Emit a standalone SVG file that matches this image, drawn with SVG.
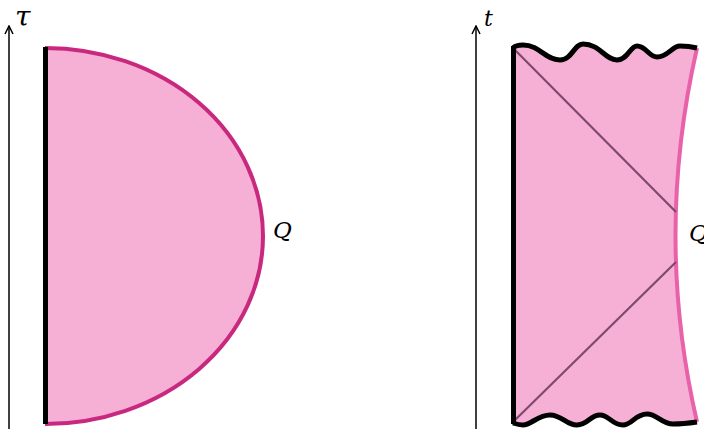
<svg xmlns="http://www.w3.org/2000/svg" width="704" height="429" viewBox="0 0 704 429">
<style>
.axis{stroke:#000;stroke-width:1.5;fill:none}
.lbl{font-family:"DejaVu Serif","Liberation Serif",serif;font-style:italic;fill:#000}
.fill{fill:#f7b0d5}
.bnd{stroke:#000;stroke-width:5;fill:none;stroke-linejoin:round}
.diag{stroke:#7e4a6c;stroke-width:2.2;fill:none}
</style>
<defs>
<marker id="arr" viewBox="0 0 10 10" refX="9" refY="5" markerWidth="10" markerHeight="10" markerUnits="userSpaceOnUse" orient="auto">
<path d="M1,1 L9,5 L1,9" fill="none" stroke="#000" stroke-width="1.5"/>
</marker>
</defs>
<g id="axes" class="connectors">
<line class="axis" x1="9" y1="429" x2="9" y2="26" marker-end="url(#arr)"/>
<line class="axis" x1="476" y1="429" x2="476" y2="26" marker-end="url(#arr)"/>
</g>
<g id="left-disk">
<path class="fill" d="M45,48 A218,188 0 0 1 45,424 Z"/>
<path d="M45,48 A218,188 0 0 1 45,424" fill="none" stroke="#c9287f" stroke-width="4"/>
<line class="bnd" x1="45.5" y1="47" x2="45.5" y2="424"/>
<text class="lbl" x="15" y="26" font-size="28">τ</text>
<text class="lbl" x="273" y="238" font-size="23">Q</text>
</g>
<g id="right-region">
<path class="fill" d="M513,48 C516,45 519,45 523,45 C540,45 545,60 560,60 C572,60 574,44 583,44 C600,44 605,60 617,60 C628,60 630,46 637,46 C646,46 649,57 657,57 C668,57 672,46 680,46 C688,46 693,47 697,48 Q654,236 697,422 C690,423 680,424 673,424 C662,424 657,414 647,414 C635,414 632,425 623,425 C612,425 609,415 600,415 C590,415 588,425 577,425 C566,425 562,415 550,415 C538,415 531,425 523,425 C519,425 516,424 513,423 Z"/>
<path d="M697,48 Q654,236 697,422" fill="none" stroke="#e861a9" stroke-width="4"/>
<line class="diag" x1="513" y1="48" x2="676" y2="212"/>
<line class="diag" x1="513" y1="422" x2="676" y2="262"/>
<path class="bnd" d="M513,48 C516,45 519,45 523,45 C540,45 545,60 560,60 C572,60 574,44 583,44 C600,44 605,60 617,60 C628,60 630,46 637,46 C646,46 649,57 657,57 C668,57 672,46 680,46 C688,46 693,47 697,48"/>
<path class="bnd" d="M697,422 C690,423 680,424 673,424 C662,424 657,414 647,414 C635,414 632,425 623,425 C612,425 609,415 600,415 C590,415 588,425 577,425 C566,425 562,415 550,415 C538,415 531,425 523,425 C519,425 516,424 513,423"/>
<line class="bnd" x1="513.5" y1="46" x2="513.5" y2="424"/>
<text class="lbl" x="484" y="26" font-size="22">t</text>
<text class="lbl" x="689" y="241" font-size="23">Q</text>
</g>
</svg>
